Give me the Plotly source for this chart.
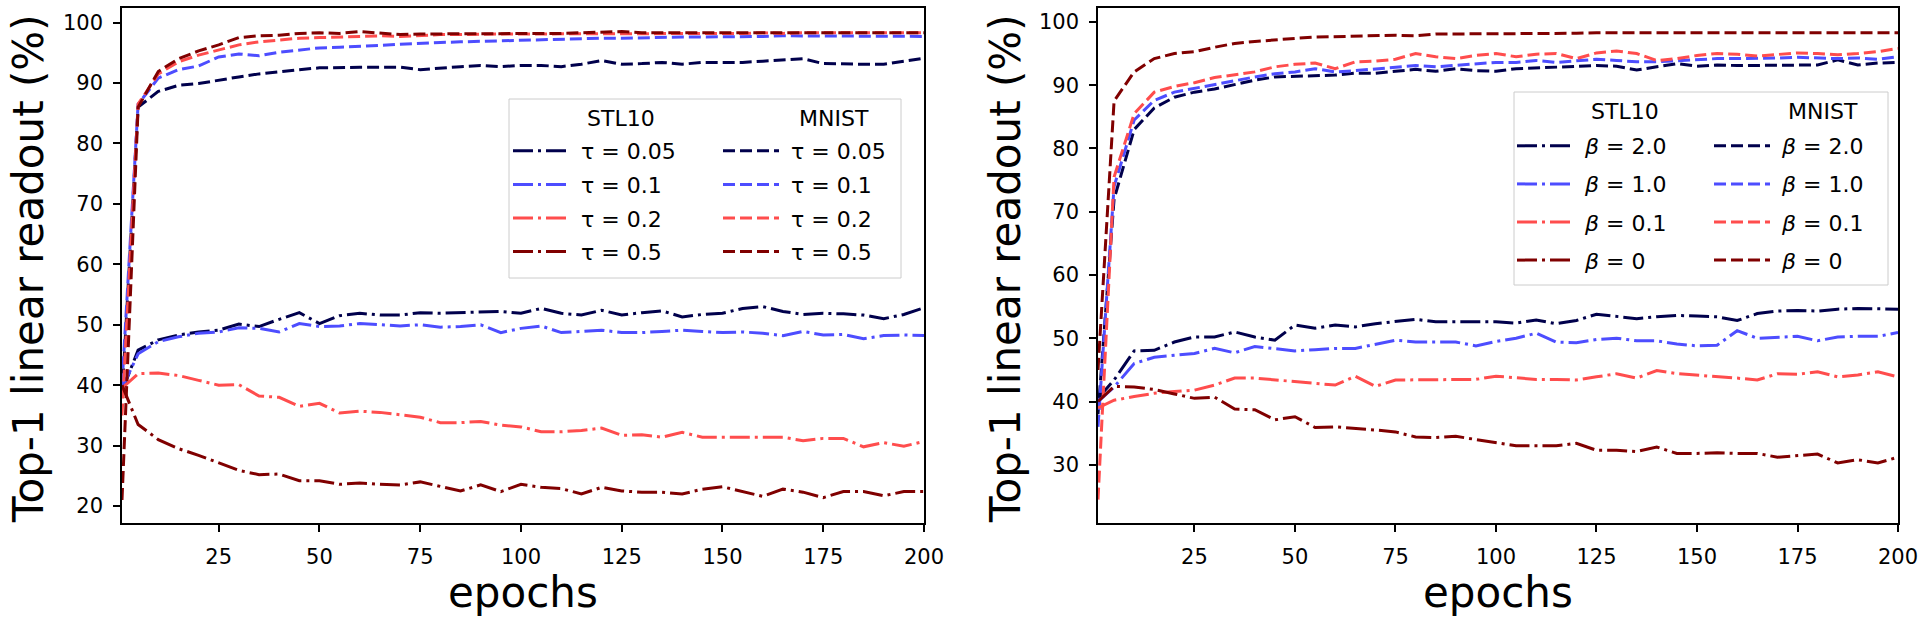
import plotly.graph_objects as go

# ---------------- data ----------------
epochs = [1] + list(range(5, 201, 5))

# left panel: temperature tau
stl10_tau_005 = [39.0, 45.8, 47.5, 48.3, 48.8, 49.1, 50.1, 49.7, 50.9, 52.0, 50.2, 51.5, 51.9, 51.6, 51.6, 52.0, 51.9, 52.0, 52.0, 52.2, 51.9, 52.7, 51.9, 51.6, 52.4, 51.6, 52.0, 52.3, 51.3, 51.7, 51.9, 52.7, 53.0, 52.2, 51.7, 51.9, 51.8, 51.6, 51.0, 51.7, 52.8]
stl10_tau_01 = [39.5, 45.2, 47.2, 48.0, 48.6, 48.8, 49.5, 49.4, 48.8, 50.2, 49.7, 49.8, 50.2, 50.0, 49.8, 50.0, 49.6, 49.7, 50.0, 48.7, 49.4, 49.8, 48.7, 48.9, 49.1, 48.7, 48.7, 48.9, 49.1, 48.9, 48.7, 48.8, 48.6, 48.2, 48.9, 48.3, 48.4, 47.7, 48.2, 48.3, 48.2]
stl10_tau_02 = [39.5, 41.9, 42.0, 41.6, 40.8, 40.0, 40.1, 38.2, 38.0, 36.5, 37.0, 35.4, 35.7, 35.5, 35.1, 34.7, 33.8, 33.8, 34.0, 33.4, 33.1, 32.3, 32.3, 32.5, 32.9, 31.7, 31.8, 31.4, 32.2, 31.4, 31.4, 31.4, 31.3, 31.4, 30.8, 31.2, 31.2, 29.8, 30.5, 29.9, 30.7]
stl10_tau_05 = [40.0, 33.5, 31.0, 29.5, 28.4, 27.2, 25.9, 25.2, 25.3, 24.2, 24.2, 23.6, 23.8, 23.6, 23.5, 24.0, 23.3, 22.5, 23.5, 22.4, 23.6, 23.1, 22.9, 22.0, 23.1, 22.5, 22.3, 22.3, 22.0, 22.8, 23.2, 22.4, 21.6, 22.8, 22.3, 21.4, 22.4, 22.4, 21.7, 22.4, 22.4]
mnist_tau_005 = [38.0, 86.0, 88.6, 89.6, 89.9, 90.5, 91.0, 91.5, 91.9, 92.2, 92.5, 92.6, 92.6, 92.6, 92.6, 92.2, 92.5, 92.7, 92.9, 92.7, 92.9, 92.9, 92.7, 93.1, 93.7, 93.1, 93.2, 93.4, 93.1, 93.4, 93.4, 93.4, 93.6, 93.8, 94.0, 93.2, 93.1, 93.1, 93.1, 93.6, 94.1]
mnist_tau_01 = [40.0, 86.5, 90.8, 92.2, 92.8, 94.3, 94.8, 94.5, 95.1, 95.4, 95.8, 95.9, 96.0, 96.2, 96.4, 96.6, 96.7, 96.8, 96.9, 97.0, 97.0, 97.1, 97.2, 97.3, 97.4, 97.4, 97.5, 97.5, 97.6, 97.6, 97.6, 97.7, 97.7, 97.8, 97.8, 97.8, 97.8, 97.8, 97.7, 97.7, 97.7]
mnist_tau_02 = [35.0, 86.5, 91.5, 93.5, 94.6, 95.5, 96.3, 96.8, 97.1, 97.4, 97.5, 97.6, 97.7, 97.8, 97.7, 97.9, 98.0, 98.0, 98.1, 98.1, 98.1, 98.1, 98.2, 98.2, 98.2, 98.2, 98.2, 98.1, 98.2, 98.2, 98.2, 98.2, 98.3, 98.2, 98.3, 98.3, 98.3, 98.3, 98.3, 98.3, 98.3]
mnist_tau_05 = [21.0, 86.0, 91.9, 94.0, 95.3, 96.3, 97.5, 97.8, 97.9, 98.2, 98.3, 98.2, 98.5, 98.3, 98.0, 98.1, 98.1, 98.2, 98.1, 98.2, 98.1, 98.2, 98.2, 98.3, 98.4, 98.5, 98.3, 98.3, 98.2, 98.2, 98.3, 98.3, 98.3, 98.3, 98.3, 98.2, 98.3, 98.3, 98.3, 98.3, 98.3]

# right panel: beta
stl10_beta_2 = [40.5, 43.4, 48.0, 48.1, 49.4, 50.2, 50.2, 51.0, 50.2, 49.7, 52.1, 51.6, 52.1, 51.8, 52.3, 52.6, 53.0, 52.6, 52.6, 52.6, 52.6, 52.4, 52.9, 52.3, 52.8, 53.8, 53.4, 53.1, 53.4, 53.6, 53.5, 53.4, 52.8, 53.9, 54.3, 54.4, 54.3, 54.6, 54.7, 54.7, 54.6]
stl10_beta_1 = [40.0, 42.3, 46.0, 47.0, 47.3, 47.6, 48.4, 47.7, 48.7, 48.4, 48.0, 48.2, 48.4, 48.4, 49.1, 49.7, 49.4, 49.4, 49.4, 48.8, 49.5, 50.0, 50.8, 49.4, 49.3, 49.8, 50.0, 49.6, 49.6, 49.1, 48.8, 48.9, 51.2, 50.0, 50.2, 50.3, 49.6, 50.2, 50.3, 50.3, 50.9]
stl10_beta_01 = [39.0, 40.2, 40.8, 41.3, 41.6, 41.8, 42.6, 43.7, 43.7, 43.4, 43.1, 42.9, 42.6, 44.0, 42.4, 43.4, 43.4, 43.4, 43.5, 43.5, 44.0, 43.7, 43.5, 43.5, 43.4, 43.9, 44.4, 43.7, 44.9, 44.4, 44.2, 43.9, 43.7, 43.4, 44.4, 44.3, 44.7, 43.9, 44.2, 44.7, 43.9]
stl10_beta_0 = [40.0, 42.4, 42.3, 41.9, 41.2, 40.5, 40.7, 38.8, 38.7, 37.1, 37.6, 35.9, 36.0, 35.8, 35.5, 35.2, 34.4, 34.3, 34.5, 34.0, 33.5, 33.0, 33.0, 33.0, 33.4, 32.3, 32.3, 32.1, 32.8, 31.8, 31.8, 31.9, 31.8, 31.8, 31.2, 31.5, 31.7, 30.3, 30.8, 30.3, 31.2]
mnist_beta_2 = [38.0, 72.0, 83.0, 86.4, 88.1, 88.9, 89.4, 90.1, 90.8, 91.3, 91.4, 91.4, 91.6, 91.9, 91.9, 92.2, 92.5, 92.2, 92.6, 92.3, 92.2, 92.6, 92.7, 92.9, 92.9, 93.1, 93.0, 92.4, 92.9, 93.4, 93.0, 93.2, 93.1, 93.1, 93.2, 93.2, 93.2, 94.0, 93.2, 93.5, 93.6]
mnist_beta_1 = [36.0, 74.0, 84.5, 87.6, 88.9, 89.5, 90.1, 90.8, 91.3, 91.8, 92.1, 92.6, 92.1, 92.3, 92.6, 92.9, 93.1, 92.9, 93.1, 93.4, 93.6, 93.6, 93.9, 93.6, 93.9, 94.1, 93.9, 93.7, 93.7, 93.9, 94.1, 94.2, 94.2, 94.2, 94.3, 94.4, 94.3, 94.2, 94.3, 94.1, 94.5]
mnist_beta_01 = [24.5, 75.5, 85.5, 88.9, 89.8, 90.4, 91.2, 91.6, 92.1, 92.9, 93.3, 93.5, 92.6, 93.7, 93.8, 94.1, 95.0, 94.5, 94.2, 94.7, 95.0, 94.5, 94.9, 95.0, 94.2, 95.1, 95.4, 95.0, 93.9, 94.2, 94.7, 95.0, 94.9, 94.6, 94.9, 95.1, 95.0, 94.8, 95.0, 95.3, 95.8]
mnist_beta_0 = [45.0, 87.5, 92.1, 94.2, 95.0, 95.3, 96.0, 96.6, 96.9, 97.2, 97.4, 97.6, 97.7, 97.8, 97.8, 97.9, 97.8, 98.1, 98.1, 98.1, 98.2, 98.2, 98.2, 98.2, 98.2, 98.3, 98.3, 98.3, 98.3, 98.3, 98.3, 98.3, 98.3, 98.3, 98.3, 98.3, 98.3, 98.3, 98.3, 98.3, 98.3]

tau_labels = ["τ = 0.05", "τ = 0.1", "τ = 0.2", "τ = 0.5"]
beta_labels = ["<i>β</i> = 2.0", "<i>β</i> = 1.0", "<i>β</i> = 0.1", "<i>β</i> = 0"]
column_titles = ["STL10", "MNIST"]
x_ticks = [25, 50, 75, 100, 125, 150, 175, 200]

# ---------------- style ----------------
colors = ["#00004c", "#4d4dff", "#ff4d4d", "#800000"]
DASHDOT = "20px,5px,3px,5px"
DASHED = "12px,5px"
LW = 3
FONT = "DejaVu Sans"
PAD = "\u00a0"

W, H = 1920, 622
def px_x(p):
    return p / W
def px_y(p):
    return 1 - p / H

fig = go.Figure()

panels = [
    dict(xa="x", ya="y", labels=tau_labels,
         stl=[stl10_tau_005, stl10_tau_01, stl10_tau_02, stl10_tau_05],
         mn=[mnist_tau_005, mnist_tau_01, mnist_tau_02, mnist_tau_05],
         leg_s="legend", leg_m="legend2"),
    dict(xa="x2", ya="y2", labels=beta_labels,
         stl=[stl10_beta_2, stl10_beta_1, stl10_beta_01, stl10_beta_0],
         mn=[mnist_beta_2, mnist_beta_1, mnist_beta_01, mnist_beta_0],
         leg_s="legend3", leg_m="legend4"),
]

for p in panels:
    for i in range(4):
        fig.add_trace(go.Scatter(
            x=epochs, y=p["stl"][i], mode="lines", name=PAD + p["labels"][i],
            line=dict(color=colors[i], width=LW, dash=DASHDOT),
            xaxis=p["xa"], yaxis=p["ya"], legend=p["leg_s"],
            legendgroup=f"{p['leg_s']}_{i}"))
        fig.add_trace(go.Scatter(
            x=epochs, y=p["mn"][i], mode="lines", name=PAD + p["labels"][i],
            line=dict(color=colors[i], width=LW, dash=DASHED),
            xaxis=p["xa"], yaxis=p["ya"], legend=p["leg_m"],
            legendgroup=f"{p['leg_m']}_{i}"))

axis_common = dict(
    showline=True, linecolor="black", linewidth=1.6, mirror=True,
    ticks="outside", ticklen=7, tickwidth=1.5, tickcolor="black",
    showgrid=False, zeroline=False, automargin=False,
    tickfont=dict(family=FONT, size=21, color="black"),
    ticklabeloverflow="allow",
)
xaxis_common = dict(axis_common, ticklabelstandoff=7)
yaxis_common = dict(axis_common, ticklabelstandoff=6)

y_top, y_bot = 8, 523
fig.update_layout(
    width=W, height=H,
    margin=dict(l=0, r=0, t=0, b=0),
    paper_bgcolor="white", plot_bgcolor="white",
    font=dict(family=FONT, size=21, color="black"),
    xaxis=dict(domain=[px_x(122), px_x(924)], range=[1, 200], tickvals=x_ticks,
               anchor="y", **xaxis_common),
    yaxis=dict(domain=[px_y(y_bot), px_y(y_top)], range=[17.2, 102.4], dtick=10,
               anchor="x", **yaxis_common),
    xaxis2=dict(domain=[px_x(1098), px_x(1898)], range=[1, 200], tickvals=x_ticks,
                anchor="y2", **xaxis_common),
    yaxis2=dict(domain=[px_y(y_bot), px_y(y_top)], range=[20.8, 102.2], dtick=10,
                anchor="x2", **yaxis_common),
    showlegend=True,
)

leg_common = dict(
    xanchor="left", yanchor="top", bgcolor="rgba(0,0,0,0)", borderwidth=0,
    font=dict(family=FONT, size=22, color="black"),
    itemwidth=56, traceorder="grouped", itemclick=False, itemdoubleclick=False,
)
fig.update_layout(
    legend=dict(x=px_x(508), y=px_y(130), tracegroupgap=2, **leg_common),
    legend2=dict(x=px_x(718), y=px_y(130), tracegroupgap=2, **leg_common),
    legend3=dict(x=px_x(1512), y=px_y(125), tracegroupgap=6.5, **leg_common),
    legend4=dict(x=px_x(1709), y=px_y(125), tracegroupgap=6.5, **leg_common),
)

# legend frames
for (x0, x1, y0, y1) in [(509, 901, 99, 278), (1514, 1888, 92, 285)]:
    fig.add_shape(type="rect", xref="paper", yref="paper",
                  x0=px_x(x0), x1=px_x(x1), y0=px_y(y1), y1=px_y(y0),
                  line=dict(color="#cccccc", width=1),
                  fillcolor="rgba(255,255,255,0.8)", layer="above")

# legend column titles
for (xs, yc) in [((585, 797), 118), ((1589, 1786), 111)]:
    for xl, title in zip(xs, column_titles):
        fig.add_annotation(text=title, xref="paper", yref="paper",
                           x=px_x(xl), y=px_y(yc), xanchor="left", yanchor="middle",
                           showarrow=False, font=dict(family=FONT, size=22, color="black"))

# axis titles
for xc in [523, 1498]:
    fig.add_annotation(text="epochs", xref="paper", yref="paper",
                       x=px_x(xc), y=px_y(592), xanchor="center", yanchor="middle",
                       showarrow=False, font=dict(family=FONT, size=42, color="black"))
for xc in [28, 1005]:
    fig.add_annotation(text="Top-1 linear readout (%)", xref="paper", yref="paper",
                       x=px_x(xc), y=px_y(269), xanchor="center", yanchor="middle",
                       textangle=-90, showarrow=False,
                       font=dict(family=FONT, size=42, color="black"))

fig.write_html(
    "out.html",
    config={"displayModeBar": False},
    post_script="document.body.style.margin='0';document.body.style.overflow='hidden';",
)
